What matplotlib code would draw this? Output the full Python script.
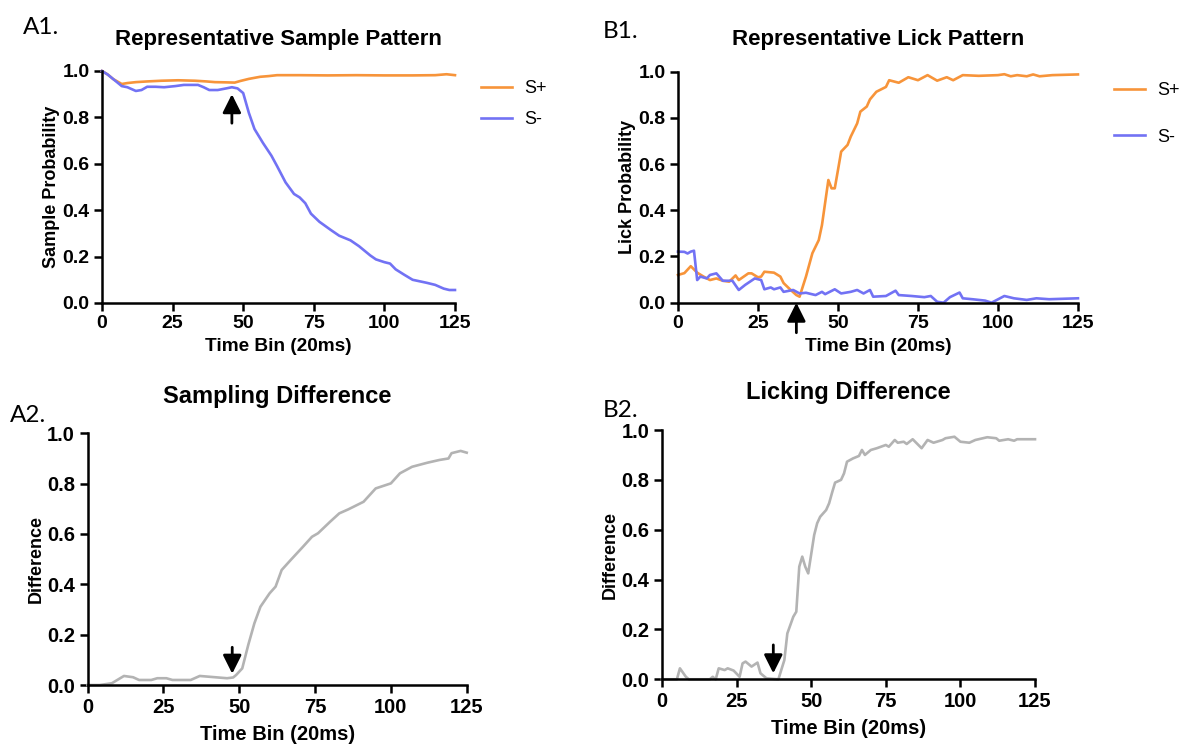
import matplotlib
matplotlib.use("Agg")
import matplotlib.pyplot as plt

plt.rcParams['font.family'] = ['Liberation Sans', 'DejaVu Sans']

# --- data ---
a1_plus_t = [0, 2, 4, 7, 9, 12, 16, 21, 27, 33, 37, 40, 44, 47, 49, 52, 56, 59, 62, 70, 80, 90, 100, 110, 118, 122, 125]
a1_plus_p = [1.0, 0.985, 0.965, 0.944, 0.948, 0.952, 0.955, 0.958, 0.96, 0.958, 0.955, 0.952, 0.951, 0.95, 0.957,
             0.966, 0.975, 0.978, 0.982, 0.982, 0.981, 0.982, 0.981, 0.981, 0.982, 0.986, 0.982]

a1_minus_t = [0, 2, 4, 7, 9, 12, 14, 16, 19, 22, 26, 29, 34, 36, 38, 41, 44, 46, 48, 50, 52, 54, 57, 60, 62, 65,
              68, 70, 72, 74, 77, 81, 84, 88, 91, 95, 97, 100, 102, 104, 107, 110, 115, 118, 121, 123, 125]
a1_minus_p = [1.0, 0.985, 0.965, 0.935, 0.93, 0.914, 0.918, 0.932, 0.932, 0.93, 0.935, 0.94, 0.94, 0.93, 0.918,
              0.918, 0.925, 0.93, 0.925, 0.905, 0.82, 0.75, 0.69, 0.635, 0.59, 0.52, 0.47, 0.455, 0.43, 0.385,
              0.35, 0.315, 0.29, 0.27, 0.245, 0.205, 0.188, 0.176, 0.17, 0.145, 0.122, 0.1, 0.087, 0.078, 0.062,
              0.056, 0.056]

b1_plus_t = [0, 2, 4, 6, 8, 10, 12, 14, 16, 18, 19, 22, 23, 25, 26, 27, 30, 32, 33, 35, 37, 38, 40, 42, 44, 45,
             47, 48, 49, 50, 51, 53, 54, 56, 57, 59, 60, 62, 65, 66, 69, 72, 75, 78, 81, 84, 86, 89, 94, 100, 102,
             104, 106, 109, 111, 113, 117, 125]
b1_plus_p = [0.12, 0.128, 0.158, 0.13, 0.113, 0.098, 0.105, 0.095, 0.091, 0.118, 0.098, 0.127, 0.127, 0.11, 0.113,
             0.134, 0.13, 0.113, 0.085, 0.058, 0.033, 0.026, 0.113, 0.214, 0.271, 0.336, 0.531, 0.495, 0.495,
             0.574, 0.654, 0.683, 0.719, 0.776, 0.827, 0.849, 0.88, 0.913, 0.934, 0.963, 0.952, 0.976, 0.963,
             0.985, 0.961, 0.976, 0.963, 0.985, 0.982, 0.985, 0.989, 0.98, 0.985, 0.98, 0.988, 0.98, 0.985, 0.988]

b1_minus_t = [0, 2, 3, 4, 5, 6, 7, 9, 10, 12, 14, 17, 19, 21, 24, 26, 27, 29, 30, 32, 33, 36, 38, 40, 43, 45, 46,
              49, 51, 54, 56, 58, 60, 61, 65, 68, 69, 73, 77, 79, 81, 83, 85, 88, 89, 92, 94, 96, 98, 102, 105,
              109, 112, 116, 125]
b1_minus_p = [0.221, 0.22, 0.213, 0.221, 0.225, 0.098, 0.113, 0.105, 0.12, 0.127, 0.095, 0.095, 0.055, 0.077,
              0.105, 0.098, 0.058, 0.066, 0.058, 0.066, 0.047, 0.055, 0.04, 0.043, 0.033, 0.047, 0.037, 0.058,
              0.04, 0.047, 0.055, 0.04, 0.055, 0.026, 0.029, 0.052, 0.033, 0.029, 0.024, 0.029, 0.004, 0.0,
              0.024, 0.044, 0.019, 0.015, 0.012, 0.009, 0.0, 0.029, 0.019, 0.012, 0.019, 0.015, 0.019]

a2_t = [0, 4, 8, 12, 15, 17, 21, 23, 26, 28, 34, 37, 40, 44, 46, 48, 49, 51, 53, 55, 57, 60, 62, 64, 67, 68, 71,
        74, 76, 80, 83, 86, 91, 95, 100, 103, 107, 112, 116, 119, 120, 123, 125]
a2_d = [0.0, 0.0, 0.007, 0.036, 0.031, 0.02, 0.02, 0.027, 0.027, 0.02, 0.02, 0.036, 0.033, 0.029, 0.027, 0.03,
        0.04, 0.066, 0.16, 0.245, 0.311, 0.364, 0.391, 0.457, 0.497, 0.51, 0.549, 0.589, 0.603, 0.649, 0.682,
        0.698, 0.728, 0.781, 0.801, 0.841, 0.867, 0.883, 0.894, 0.9, 0.921, 0.93, 0.923]

b2_t = [0, 5, 6, 8, 9, 16, 17, 18, 19, 21, 22, 24, 26, 27, 28, 30, 32, 33, 35, 39, 41, 42, 44, 45, 46, 47, 48,
        49, 51, 52, 53, 55, 56, 57, 58, 60, 61, 62, 64, 66, 67, 68, 70, 72, 75, 76, 78, 79, 81, 82, 84, 87, 89,
        91, 94, 95, 98, 100, 103, 105, 109, 112, 113, 116, 118, 119, 125]
b2_d = [0.0, 0.0, 0.044, 0.01, 0.0, 0.0, 0.01, 0.0, 0.044, 0.037, 0.044, 0.035, 0.01, 0.064, 0.071, 0.051, 0.067,
        0.024, 0.004, 0.0, 0.077, 0.184, 0.251, 0.271, 0.452, 0.492, 0.452, 0.425, 0.579, 0.626, 0.652, 0.679,
        0.706, 0.749, 0.789, 0.8, 0.826, 0.873, 0.886, 0.896, 0.92, 0.9, 0.92, 0.927, 0.94, 0.933, 0.96, 0.949,
        0.953, 0.944, 0.963, 0.927, 0.96, 0.949, 0.96, 0.967, 0.973, 0.953, 0.949, 0.96, 0.971, 0.967, 0.957,
        0.963, 0.957, 0.963, 0.963]

x_ticks = [0, 25, 50, 75, 100, 125]
y_ticks = [0.0, 0.2, 0.4, 0.6, 0.8, 1.0]

ORANGE = "#F7943A"
BLUE = "#7272F4"
GRAY = "#B3B3B3"
FLECHA = dict(arrowstyle="-|>,head_length=0.7,head_width=0.35", color="black", lw=2,
              mutation_scale=16, shrinkA=0, shrinkB=0)


def estilo(ax, titulo, ylabel, title_pad, tsize, ticksize, xsize, xpad):
    ax.set_xlim(0, 125)
    ax.set_ylim(0, 1)
    ax.set_xticks(x_ticks)
    ax.set_yticks(y_ticks)
    ax.set_yticklabels([f"{v:.1f}" for v in y_ticks])
    for s in ["top", "right"]:
        ax.spines[s].set_visible(False)
    for s in ["left", "bottom"]:
        ax.spines[s].set_linewidth(1.8)
    ax.tick_params(direction="out", length=6, width=1.8, labelsize=ticksize, pad=3)
    for lab in ax.get_xticklabels() + ax.get_yticklabels():
        lab.set_fontweight("bold")
    ax.set_title(titulo, fontsize=tsize, fontweight="bold", pad=title_pad)
    ax.set_xlabel("Time Bin (20ms)", fontsize=xsize, fontweight="bold", labelpad=xpad)
    ax.set_ylabel(ylabel, fontsize=13, fontweight="bold", labelpad=2)


fig = plt.figure(figsize=(11.83, 7.45), dpi=100)

ax1 = fig.add_axes([0.0862, 0.5933, 0.2984, 0.3114])
ax2 = fig.add_axes([0.5731, 0.5937, 0.3381, 0.3101])
ax3 = fig.add_axes([0.0740, 0.0805, 0.3205, 0.3379])
ax4 = fig.add_axes([0.5596, 0.0882, 0.3153, 0.3346])

# A1
ax1.plot(a1_plus_t, a1_plus_p, color=ORANGE, lw=1.9, label="S+", clip_on=False)
ax1.plot(a1_minus_t, a1_minus_p, color=BLUE, lw=1.9, label="S-", clip_on=False)
estilo(ax1, "Representative Sample Pattern", "Sample Probability", 19, 16, 14, 13.7, 4)
ax1.annotate("", xy=(46, 0.9), xytext=(46, 0.775), arrowprops=FLECHA)
ax1.legend(loc="upper left", bbox_to_anchor=(481 / 1183, 1 - 80 / 745), bbox_transform=fig.transFigure,
           frameon=False, fontsize=13, handlelength=1.7, handletextpad=0.7, labelspacing=0.8,
           borderpad=0, borderaxespad=0)

# B1
ax2.plot(b1_plus_t, b1_plus_p, color=ORANGE, lw=1.9, label="S+", clip_on=False)
ax2.plot(b1_minus_t, b1_minus_p, color=BLUE, lw=1.9, label="S-", clip_on=False)
estilo(ax2, "Representative Lick Pattern", "Lick Probability", 19, 16, 14, 13.7, 4)
ax2.annotate("", xy=(37, 0.0), xytext=(37, -0.13), arrowprops=FLECHA, annotation_clip=False)
ax2.legend(loc="upper left", bbox_to_anchor=(1114 / 1183, 1 - 82 / 745), bbox_transform=fig.transFigure,
           frameon=False, fontsize=13, handlelength=1.7, handletextpad=0.7, labelspacing=1.65,
           borderpad=0, borderaxespad=0)

# A2
ax3.plot(a2_t, a2_d, color=GRAY, lw=1.9, clip_on=False)
estilo(ax3, "Sampling Difference", "Difference", 22, 17, 14.5, 14.5, 6)
ax3.annotate("", xy=(47.7, 0.045), xytext=(47.7, 0.15), arrowprops=FLECHA)

# B2
ax4.plot(b2_t, b2_d, color=GRAY, lw=1.9, clip_on=False)
estilo(ax4, "Licking Difference", "Difference", 22, 17, 14.5, 14.5, 6)
ax4.annotate("", xy=(37.3, 0.024), xytext=(37.3, 0.138), arrowprops=FLECHA)

# panel letters
for txt, x, y in [("A1.", 23, 27), ("B1.", 603, 31), ("A2.", 10, 415), ("B2.", 603, 411)]:
    fig.text(x / 1183, 1 - y / 745, txt, fontsize=17.5, family=["Lato", "DejaVu Sans"],
             ha="left", va="center")

fig.savefig("out.png", dpi=100)
